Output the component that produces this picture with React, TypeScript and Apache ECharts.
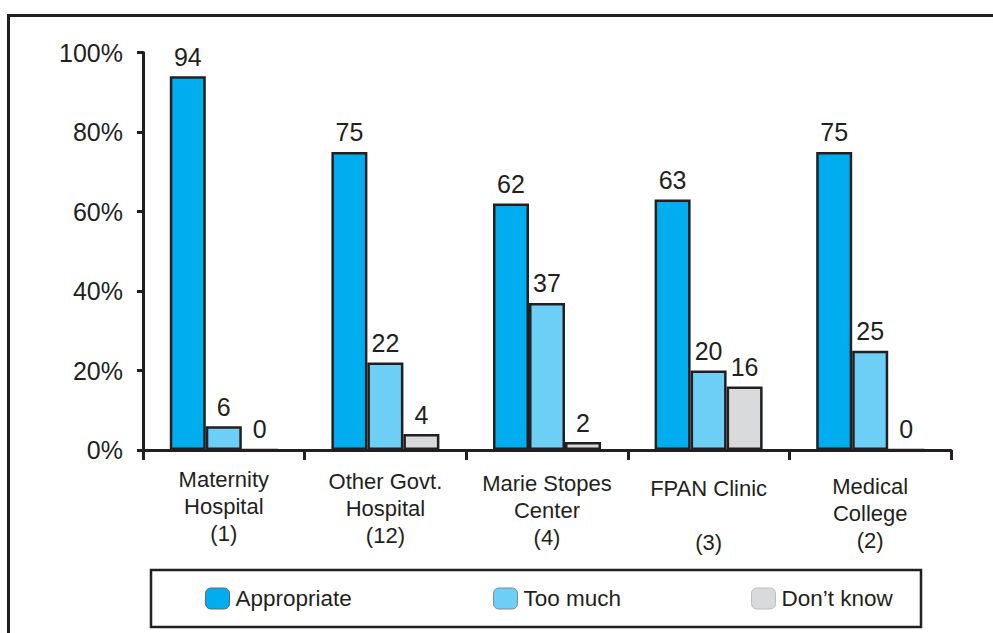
import React, { useEffect, useRef } from "react";
import * as echarts from "echarts";

const categories = [
  "Maternity\nHospital\n(1)",
  "Other Govt.\nHospital\n(12)",
  "Marie Stopes\nCenter\n(4)",
  "FPAN Clinic\n\n(3)",
  "Medical\nCollege\n(2)",
];
const seriesNames = ["Appropriate", "Too much", "Don\u2019t know"];
const appropriate = [94, 75, 62, 63, 75];
const tooMuch = [6, 22, 37, 20, 25];
const dontKnow = [0, 4, 2, 16, 0];
const yTicks = [0, 20, 40, 60, 80, 100];

const colors = ["#00AEEF", "#6DCFF6", "#D9DADB"];
const legendBorders = ["#5a6a72", "#7a8a92", "#bdbdbd"];
const ink = "#231F20";
const font = "'Liberation Sans', Arial, sans-serif";
// per-category vertical nudge of the axis label block (style only)
const labelNudge = [4, 6, 8, 13, 11];

export default function App() {
  const ref = useRef<HTMLDivElement>(null);
  useEffect(() => {
    document.body.style.margin = "0";
    const chart = echarts.init(ref.current!, null, { renderer: "svg" });
    const values = [appropriate, tooMuch, dontKnow];
    const legendLefts = [205, 493, 751];
    const rich: Record<string, any> = {
      n: { fontSize: 22, lineHeight: 27, color: ink, fontFamily: font },
    };
    labelNudge.forEach((h, i) => {
      rich["s" + i] = { fontSize: 1, lineHeight: h, height: h };
    });
    chart.setOption({
      animation: false,
      backgroundColor: "#ffffff",
      textStyle: { fontFamily: font, color: ink },
      grid: { left: 143, right: 42, top: 52.5, bottom: 183, containLabel: false },
      xAxis: {
        type: "category",
        data: categories,
        axisLine: { lineStyle: { color: ink, width: 3 } },
        axisTick: { show: true, length: 10, lineStyle: { color: ink, width: 3 } },
        axisLabel: {
          color: ink,
          fontSize: 22,
          lineHeight: 27,
          margin: 12,
          fontFamily: font,
          interval: 0,
          formatter: (value: string, idx: number) =>
            `{s${idx}| }\n` +
            value
              .split("\n")
              .map((l) => (l ? `{n|${l}}` : `{n| }`))
              .join("\n"),
          rich,
        },
      },
      yAxis: {
        type: "value",
        min: yTicks[0],
        max: yTicks[yTicks.length - 1],
        interval: 20,
        splitLine: { show: false },
        axisLine: { show: true, lineStyle: { color: ink, width: 3 } },
        axisTick: { show: true, length: 6, lineStyle: { color: ink, width: 3 } },
        axisLabel: {
          color: ink,
          fontSize: 25,
          margin: 20,
          fontFamily: font,
          formatter: "{value}%",
        },
      },
      legend: seriesNames.map((name, i) => ({
        data: [name],
        left: legendLefts[i],
        top: 587,
        padding: 0,
        itemWidth: 24,
        itemHeight: 21,
        itemGap: 10,
        textStyle: { fontSize: 22.5, color: ink, fontFamily: font, padding: [0, 0, 0, 1] },
        itemStyle: { borderColor: legendBorders[i], borderWidth: 1 },
      })),
      graphic: [
        {
          type: "rect",
          shape: { x: 8.5, y: 15.5, width: 1100, height: 800 },
          style: { fill: "none", stroke: ink, lineWidth: 3 },
          silent: true,
          z: -1,
        },
        {
          type: "rect",
          shape: { x: 151, y: 570, width: 770, height: 57 },
          style: { fill: "none", stroke: ink, lineWidth: 2.5 },
          silent: true,
        },
      ],
      series: seriesNames.map((name, i) => ({
        name,
        type: "bar",
        data: values[i],
        barWidth: 36,
        barGap: "0%",
        itemStyle: { color: colors[i], borderColor: ink, borderWidth: 2.5 },
        label: {
          show: true,
          position: "top",
          distance: 7,
          color: ink,
          fontSize: 25,
          fontFamily: font,
        },
      })),
    });
    return () => chart.dispose();
  }, []);
  return (
    <div
      ref={ref}
      style={{ position: "fixed", left: 0, top: 0, width: 993, height: 633 }}
    />
  );
}
